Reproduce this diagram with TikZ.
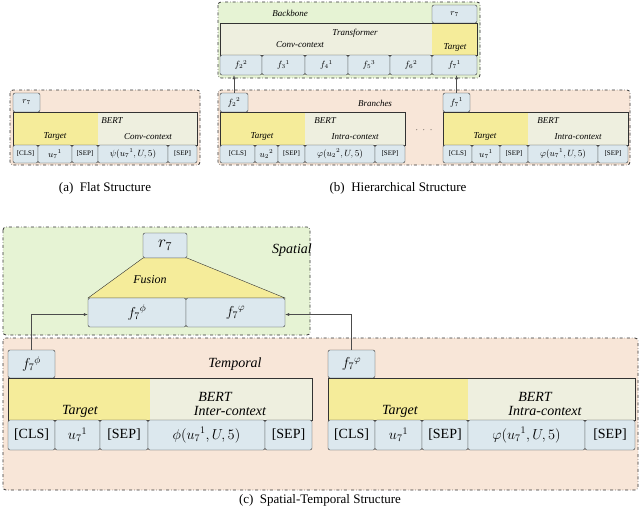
\documentclass[tikz,border=0pt]{standalone}
\usepackage{fontspec}
\setmainfont{Liberation Serif}
\usetikzlibrary{arrows.meta}
\definecolor{peach}{HTML}{F8E6D8}
\definecolor{grn}{HTML}{E6F3D4}
\definecolor{blu}{HTML}{DCE8EE}
\definecolor{yel}{HTML}{F5EC9A}
\definecolor{gry}{HTML}{EEEFDF}
\tikzset{
 panel/.style={draw=black!80,dash dot,thick,rounded corners=3},
 box/.style={draw=black!80,fill=blu,inner sep=0,rounded corners=2},
 bar/.style={draw=black!80},
 arr/.style={-{Latex[length=4pt]},black!70},
}
\newcommand{\bx}[7]{\node[#6,minimum width={#4-#2},minimum height={#5-#3}] (#1) at ({(#2+#4)/2},{(#3+#5)/2}) {#7};}
\newcommand{\barr}[5]{% x1 y1 xm x2 y2
 \fill[yel] (#1,#2) rectangle (#3,#5);
 \fill[gry] (#3,#2) rectangle (#4,#5);
 \draw[bar] (#1,#2) rectangle (#4,#5);}
\begin{document}
\begin{tikzpicture}[x=1pt,y=-1pt]
\useasboundingbox[fill=white] (0,0) rectangle (640,512);
% ---------- (a)
\begin{scope}[font=\fontsize{9}{10}\selectfont]
\draw[panel,fill=peach] (10,90) rectangle (200,165);
\bx{ar}{13}{93}{40}{112}{box}{$r_7$}
\barr{13}{112}{98}{197}{145}
\node (abert) at (112,121) {\itshape BERT};
\node (atgt) at (55,137) {\itshape Target};
\node (actx) at (148,137) {\itshape Conv-context};
\bx{a1}{13}{145}{38}{163}{box}{\fontsize{7}{8}\selectfont[CLS]}
\bx{a2}{38}{145}{72}{163}{box}{$u_7{}^1$}
\bx{a3}{72}{145}{98}{163}{box}{\fontsize{7}{8}\selectfont[SEP]}
\bx{a4}{98}{145}{168}{163}{box}{$\psi(u_7{}^1,U,5)$}
\bx{a5}{168}{145}{197}{163}{box}{\fontsize{7}{8}\selectfont[SEP]}
% ---------- (b)
\draw[panel,fill=grn] (218,2) rectangle (480,78);
\node (bb) at (290,13) {\itshape Backbone};
\bx{br}{432}{5}{477}{23}{box}{$r_7$}
\fill[gry] (220,23) rectangle (432,55);
\fill[yel] (432,23) rectangle (477,55);
\draw[bar] (220,23) rectangle (477,55);
\node (btr) at (355,33) {\itshape Transformer};
\node (bcc) at (300,45) {\itshape Conv-context};
\node (btg) at (455,48) {\itshape Target};
\bx{f1}{220}{55}{262}{75}{box}{$f_2{}^2$}
\bx{f2}{262}{55}{305}{75}{box}{$f_3{}^1$}
\bx{f3}{305}{55}{348}{75}{box}{$f_4{}^1$}
\bx{f4}{348}{55}{390}{75}{box}{$f_5{}^3$}
\bx{f5}{390}{55}{432}{75}{box}{$f_6{}^2$}
\bx{f6}{432}{55}{477}{75}{box}{$f_7{}^1$}
\draw[panel,fill=peach] (218,90) rectangle (630,165);
\node (brn) at (375,103) {\itshape Branches};
\bx{lt}{220}{93}{248}{112}{box}{$f_2{}^2$}
\barr{220}{112}{305}{405}{145}
\node (lb) at (325,121) {\itshape BERT};
\node (lg) at (262,137) {\itshape Target};
\node (lc) at (355,137) {\itshape Intra-context};
\bx{l1}{220}{145}{255}{163}{box}{\fontsize{7}{8}\selectfont[CLS]}
\bx{l2}{255}{145}{278}{163}{box}{$u_2{}^2$}
\bx{l3}{278}{145}{305}{163}{box}{\fontsize{7}{8}\selectfont[SEP]}
\bx{l4}{305}{145}{375}{163}{box}{$\varphi(u_2{}^2,U,5)$}
\bx{l5}{375}{145}{405}{163}{box}{\fontsize{7}{8}\selectfont[SEP]}
\node (dots) at (424,130) {$\cdot\;\cdot\;\cdot$};
\bx{rt}{443}{93}{470}{112}{box}{$f_7{}^1$}
\barr{443}{112}{528}{628}{145}
\node (rb) at (548,121) {\itshape BERT};
\node (rg) at (485,137) {\itshape Target};
\node (rc) at (578,137) {\itshape Intra-context};
\bx{r1}{443}{145}{472}{163}{box}{\fontsize{7}{8}\selectfont[CLS]}
\bx{r2}{472}{145}{500}{163}{box}{$u_7{}^1$}
\bx{r3}{500}{145}{528}{163}{box}{\fontsize{7}{8}\selectfont[SEP]}
\bx{r4}{528}{145}{598}{163}{box}{$\varphi(u_7{}^1,U,5)$}
\bx{r5}{598}{145}{628}{163}{box}{\fontsize{7}{8}\selectfont[SEP]}
\draw[arr] (lt.north) -- (lt.north |- f1.south);
\draw[arr] (rt.north) -- (rt.north |- f6.south);
\end{scope}
\node[font=\fontsize{13}{15}\selectfont] (capa) at (105,188) {(a)\ \ Flat Structure};
\node[font=\fontsize{13}{15}\selectfont] (capb) at (398,188) {(b)\ \ Hierarchical Structure};
% ---------- (c)
\begin{scope}[font=\fontsize{14}{16}\selectfont]
\draw[panel,fill=grn] (3,227) rectangle (310,335);
\node (sp) at (292,250) {\itshape Spatial};
\bx{cr}{143}{233}{187}{258}{box}{\fontsize{18}{20}\selectfont$r_7$}
\draw[fill=yel,draw=black!80] (88,298) -- (143,258) -- (187,258) -- (285,298) -- cycle;
\node (fus) at (150,280) {\itshape\fontsize{12}{14}\selectfont Fusion};
\bx{fa}{88}{298}{186}{327}{box}{$f_7{}^{\phi}$}
\bx{fb}{186}{298}{285}{327}{box}{$f_7{}^{\varphi}$}
\draw[panel,fill=peach] (3,338) rectangle (638,490);
\node (tp) at (235,364) {\itshape Temporal};
\bx{tl}{8}{350}{55}{378}{box}{$f_7{}^{\phi}$}
\barr{8}{378}{150}{312}{420}
\node (tb) at (215,397) {\itshape BERT};
\node (tg) at (80,411) {\itshape Target};
\node (tc) at (230,411) {\itshape Inter-context};
\bx{c1}{8}{420}{55}{450}{box}{[CLS]}
\bx{c2}{55}{420}{100}{450}{box}{$u_7{}^1$}
\bx{c3}{100}{420}{148}{450}{box}{[SEP]}
\bx{c4}{148}{420}{265}{450}{box}{$\phi(u_7{}^1,U,5)$}
\bx{c5}{265}{420}{312}{450}{box}{[SEP]}
\bx{tr}{328}{350}{375}{378}{box}{$f_7{}^{\varphi}$}
\barr{328}{378}{468}{635}{420}
\node (ub) at (535,397) {\itshape BERT};
\node (ug) at (400,411) {\itshape Target};
\node (uc) at (545,411) {\itshape Intra-context};
\bx{d1}{328}{420}{375}{450}{box}{[CLS]}
\bx{d2}{375}{420}{422}{450}{box}{$u_7{}^1$}
\bx{d3}{422}{420}{468}{450}{box}{[SEP]}
\bx{d4}{468}{420}{585}{450}{box}{$\varphi(u_7{}^1,U,5)$}
\bx{d5}{585}{420}{635}{450}{box}{[SEP]}
\draw[arr] (tl.north) |- ([yshift=-2pt]fa.west);
\draw[arr] (tr.north) |- ([yshift=-2pt]fb.east);
\end{scope}
\node[font=\fontsize{13}{15}\selectfont] (capc) at (320,500) {(c)\ \ Spatial-Temporal Structure};
\end{tikzpicture}
\end{document}
